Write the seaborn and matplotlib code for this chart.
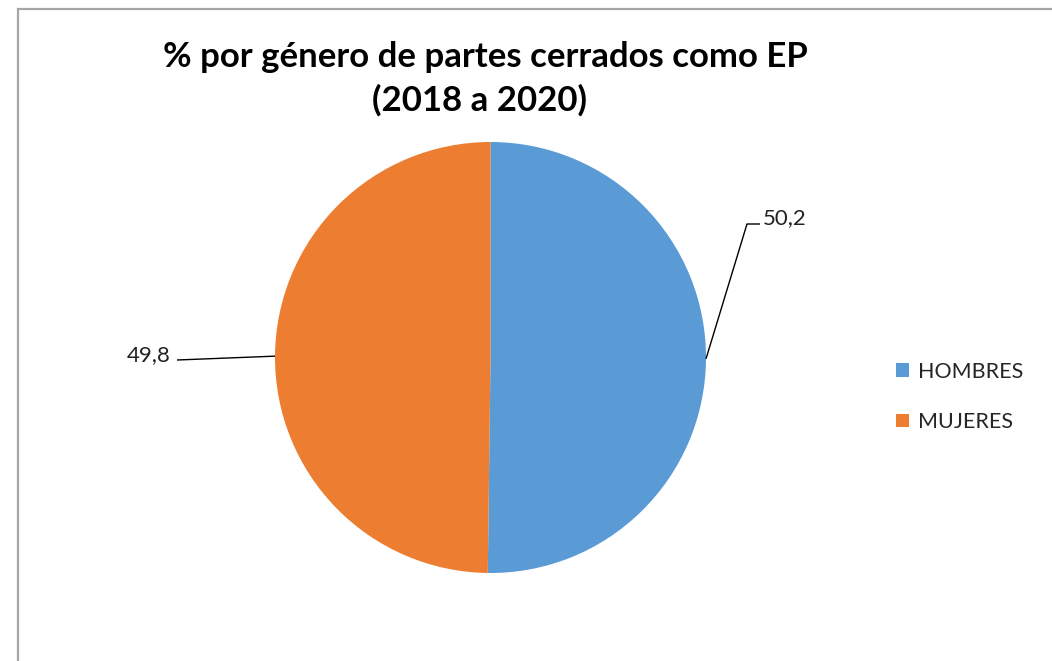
import matplotlib
matplotlib.use("Agg")
import matplotlib.pyplot as plt
import seaborn as sns
from matplotlib.patches import Rectangle, Patch
import numpy as np

categories = ["HOMBRES", "MUJERES"]
values = [50.2, 49.8]
value_labels = ["50,2", "49,8"]
colors = ["#5B9BD5", "#ED7D31"]
title_lines = ["% por género de partes cerrados como EP", "(2018 a 2020)"]

sns.set_theme(style="white")
plt.rcParams['font.family'] = ['Lato', 'DejaVu Sans']

W, H = 1052, 661
fig = plt.figure(figsize=(W / 100, H / 100), dpi=100)
fig.patch.set_facecolor('white')

# chart area border (left and top visible)
fig.add_artist(Rectangle((18 / W, -0.1), 1.2, 1.1 - 9 / H, transform=fig.transFigure,
                         fill=False, edgecolor='#A6A6A6', linewidth=1.6))

cx, cy, R = 490.5, 357.5, 215.5  # pixels, cy from top


def px(x, y):
    return ((x - cx) / R, (cy - y) / R)


ax = fig.add_axes([0, 0, 1, 1])
wedges, _ = ax.pie(values, colors=sns.color_palette(colors), startangle=90,
                   counterclock=False, radius=1, center=(0, 0),
                   wedgeprops=dict(linewidth=0))
ax.set_xlim(-cx / R, (W - cx) / R)
ax.set_ylim(-(H - cy) / R, cy / R)
ax.set_aspect('equal')
ax.axis('off')

# data labels with leader lines
label_cfg = [
    dict(elbow=(747, 224), end=(760, 224), text=(763, 218), ha='left'),
    dict(elbow=None, end=(177, 360), text=(171, 355), ha='right'),
]
for w, lab, cfg in zip(wedges, value_labels, label_cfg):
    th = np.deg2rad((w.theta1 + w.theta2) / 2)
    anchor = (np.cos(th), np.sin(th))
    pts = [anchor]
    if cfg['elbow'] is not None:
        pts.append(px(*cfg['elbow']))
    pts.append(px(*cfg['end']))
    xs, ys = zip(*pts)
    ax.plot(xs, ys, color='black', linewidth=1.0, solid_capstyle='butt')
    tx, ty = px(*cfg['text'])
    ax.text(tx, ty, lab, ha=cfg['ha'], va='center', fontsize=16, color='#222222')

# title
fig.text(485 / W, 1 - 57 / H, title_lines[0], ha='center', va='center',
         fontsize=25, fontweight='bold', color='black')
fig.text(480 / W, 1 - 100 / H, title_lines[1], ha='center', va='center',
         fontsize=25, fontweight='bold', color='black')

# legend
handles = [Patch(facecolor=c, edgecolor='none') for c in colors]
ax.legend(handles, categories, loc='center left',
          bbox_to_anchor=(896 / W, 1 - 397 / H), bbox_transform=fig.transFigure,
          frameon=False, handlelength=0.62, handleheight=0.62, handletextpad=0.4,
          labelspacing=1.4, borderpad=0, borderaxespad=0,
          prop=dict(size=15.5))

fig.savefig("out.png", dpi=100, facecolor='white')
